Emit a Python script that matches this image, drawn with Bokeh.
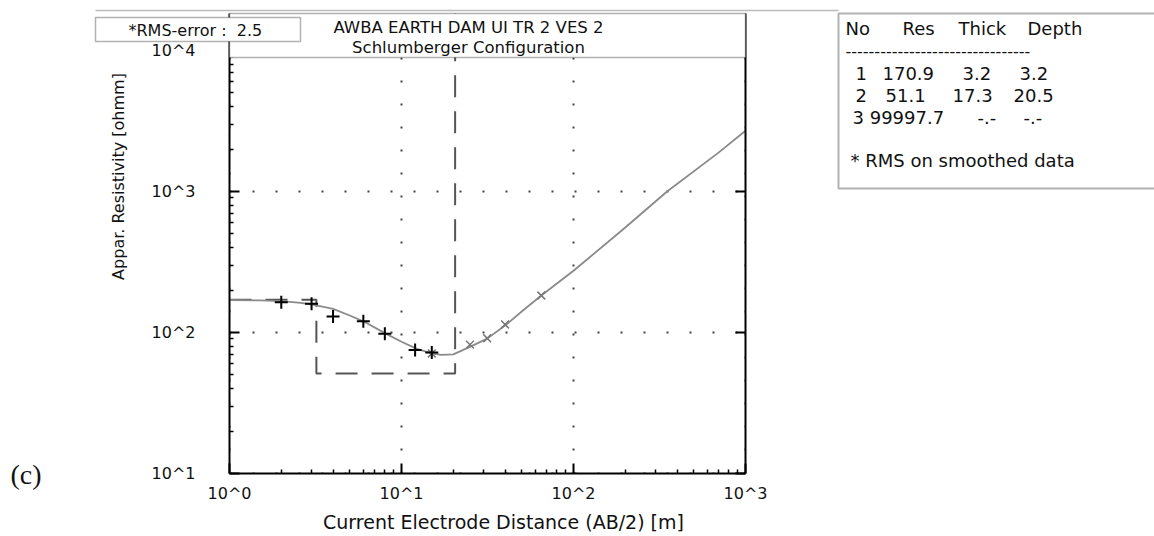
from math import pi
from bokeh.plotting import figure
from bokeh.models import (LogAxis, FixedTicker, CustomJSTickFormatter, Label,
                          BoxAnnotation, Range1d, Grid, LogScale)
from bokeh.embed import file_html
from bokeh.resources import INLINE

# ---------------- data ----------------
meas_x = [2.0, 3.0, 4.0, 6.0, 8.0, 12.0, 15.0]
meas_y = [164, 160, 130, 120, 98, 75, 72]
smooth_x = [15.0, 25.0, 31.5, 40.0, 65.0]
smooth_y = [71, 82, 91, 114, 183]
curve_x = [1, 1.5, 2, 2.6, 3, 4, 5, 6, 8, 10, 12.3, 15, 17, 20, 25, 31.5, 40, 50,
           65, 100, 200, 350, 700, 1000]
curve_y = [170, 169, 167, 162, 158, 147, 132, 120, 99, 86, 76.5, 71, 69.4, 70, 79,
           90.5, 112, 141, 183, 274, 555, 1000, 1894, 2700]
layer_res = [170.9, 51.1, 99997.7]
layer_thick = [3.2, 17.3]
layer_depth = [3.2, 20.5]
model_x = [1, layer_depth[0], layer_depth[0], layer_depth[1], layer_depth[1]]
model_y = [layer_res[0], layer_res[0], layer_res[1], layer_res[1], layer_res[2]]
x_ticks = [1, 10, 100, 1000]
y_ticks = [10, 100, 1000, 10000]
x_minor = [2, 3, 4, 5, 6, 7, 8, 9, 20, 30, 40, 50, 60, 70, 80, 90,
           200, 300, 400, 500, 600, 700, 800, 900]
y_minor = [20, 30, 40, 50, 60, 70, 80, 90, 200, 300, 400, 500, 600, 700, 800, 900,
           2000, 3000, 4000, 5000, 6000, 7000, 8000, 9000]
title_lines = ["AWBA EARTH DAM UI TR 2 VES 2", "Schlumberger Configuration"]
rms_text = "*RMS-error :\u00a0 2.5"
x_title = "Current Electrode Distance (AB/2) [m]"
y_title = "Appar. Resistivity [ohmm]"
table_header = ["No", "Res", "Thick", "Depth"]
table_rows = [["1", "170.9", "3.2", "3.2"],
              ["2", "51.1", "17.3", "20.5"],
              ["3 99997.7", "", "-.-", "-.-"]]
table_note = "* RMS on smoothed data"

FONT = "DejaVu Sans"
W, H = 1154, 536
FL, FR, FT, FB = 229, 745, 50, 473   # plot area edges (page px) for 10^0..10^3, 10^4..10^1
TOP = 13                               # axes lines run up to this page row
DX = (FR - FL) / 3.0                   # px per decade
DY = (FB - FT) / 3.0

# the frame covers the whole page; ranges chosen so decades land on the plot area
x_range = Range1d(10 ** (-FL / DX), 10 ** ((W - FL) / DX))
y_range = Range1d(10 ** (1 - (H - FB) / DY), 10 ** (1 + FB / DY))
y_axis_top = 10 ** (1 + (FB - TOP) / DY)

p = figure(width=W, height=H, x_range=x_range, y_range=y_range,
           x_axis_type="log", y_axis_type="log",
           x_axis_location=None, y_axis_location=None,
           min_border=0, min_border_left=0, min_border_right=0,
           min_border_top=0, min_border_bottom=0,
           toolbar_location=None, output_backend="svg")
p.x_scale = LogScale()
p.y_scale = LogScale()
p.outline_line_color = None
p.background_fill_color = "white"
p.border_fill_color = "white"
p.center = [r for r in p.center if not isinstance(r, Grid)]

fmt = CustomJSTickFormatter(code="return '10^' + Math.round(Math.log10(tick));")
blank = CustomJSTickFormatter(code="return '';")


def make_axis(loc, bounds, ticks, minor, labels=True, minor_on=True, standoff=10):
    ax = LogAxis(fixed_location=loc, bounds=bounds,
                 ticker=FixedTicker(ticks=ticks, minor_ticks=minor if minor_on else []))
    ax.axis_line_color = "black"
    ax.axis_line_width = 2
    ax.major_tick_line_color = "black"
    ax.major_tick_line_width = 2
    ax.major_tick_in = 10
    ax.major_tick_out = 0
    ax.minor_tick_in = 4 if minor_on else 0
    ax.minor_tick_out = 0
    ax.minor_tick_line_color = "black" if minor_on else None
    ax.minor_tick_line_width = 1.5
    ax.formatter = fmt if labels else blank
    ax.major_label_text_font = FONT
    ax.major_label_text_font_size = "16px" if labels else "1px"
    ax.major_label_text_color = "#111111"
    ax.major_label_standoff = standoff
    return ax


# grid (dotted, decades only), limited to the plot area where supported
grid_props = Grid.properties()
for dim, ticks, cross in ((0, x_ticks, (y_ticks[0], y_ticks[-1])),
                          (1, y_ticks, (x_ticks[0], x_ticks[-1]))):
    g = Grid(dimension=dim, ticker=FixedTicker(ticks=ticks), grid_line_color="#444444",
             grid_line_dash="2 21", grid_line_width=2)
    if "cross_bounds" in grid_props:
        g.cross_bounds = cross
    p.add_layout(g)


def sx(X):
    return X


def sy(Y):
    return H - Y


def box(x0, y0, x1, y1, lw=1.5, level="annotation", line=True, color="black"):
    p.add_layout(BoxAnnotation(left=sx(x0), right=sx(x1), top=sy(y0), bottom=sy(y1),
                               left_units="screen", right_units="screen",
                               top_units="screen", bottom_units="screen",
                               fill_color="white", fill_alpha=1.0,
                               line_color=color if line else None, line_width=lw,
                               level=level))


def text(X, Y, s, size="16px", align="left", font=FONT, angle=0.0):
    p.add_layout(Label(x=sx(X), y=sy(Y), x_units="screen", y_units="screen", text=s,
                       text_font=font, text_font_size=size, text_align=align,
                       text_baseline="middle", angle=angle, text_color="#111111",
                       level="annotation"))


# hide grid lines outside the plot area (underlay, drawn after the grids)
box(-20, -20, FL, H + 20, level="underlay", line=False)
box(FR, -20, W + 20, H + 20, level="underlay", line=False)
box(-20, FB, W + 20, H + 20, level="underlay", line=False)
box(-20, -20, W + 20, FT, level="underlay", line=False)

# model (dashed) and fitted curve, data points
p.line(model_x, model_y, line_color="#555555", line_width=2, line_dash="22 14")
p.line(curve_x, curve_y, line_color="#8a8a8a", line_width=1.8)
p.scatter(smooth_x, smooth_y, marker="x", size=11, line_color="#777777", line_width=1.5)
p.scatter(meas_x, meas_y, marker="cross", size=13, line_color="black", line_width=2)

# axes drawn at fixed data locations
p.add_layout(make_axis(1, (10, y_axis_top), y_ticks, y_minor, standoff=34), "left")
p.add_layout(make_axis(1000, (10, y_axis_top), y_ticks, y_minor, labels=False,
                       minor_on=False, standoff=0), "right")
p.add_layout(make_axis(10, (1, 1000), x_ticks, x_minor, standoff=10), "below")

# header: cover anything above the title box, then the rule line
box(FL + 1, -20, FR - 1, TOP, line=False)
box(95, 10, 838, 10, lw=1.5, color="#222222")
# title box
box(FL, TOP, FR, 57)
text(468, 27, title_lines[0], size="16.5px", align="center")
text(468, 47, title_lines[1], size="16.5px", align="center")
# rms box
box(95, 17, 300, 41)
text(128, 30, rms_text, size="16px")
# table box
box(838, TOP, 1170, 188, lw=2)
hx = [845, 902, 958, 1027]
for xx, s in zip(hx, table_header):
    text(xx, 28, s, size="18px")
text(845, 50, "-" * 32, size="16px")
col_x = [[855, 882, 962, 1019], [855, 885, 952, 1013], [852, 0, 977, 1023]]
row_y = [73, 95, 117]
for row, xs, yy in zip(table_rows, col_x, row_y):
    for xx, s in zip(xs, row):
        if s:
            text(xx, yy, s, size="18px")
text(850, 160, table_note, size="18px")

# axis titles and panel tag
text(503, 521, x_title, size="19px", align="center")
text(118, 176, y_title, size="16px", align="center", angle=pi / 2)
text(10, 474, "(c)", size="28px", font="Liberation Serif")

open("out.html", "w").write(file_html(p, INLINE))
